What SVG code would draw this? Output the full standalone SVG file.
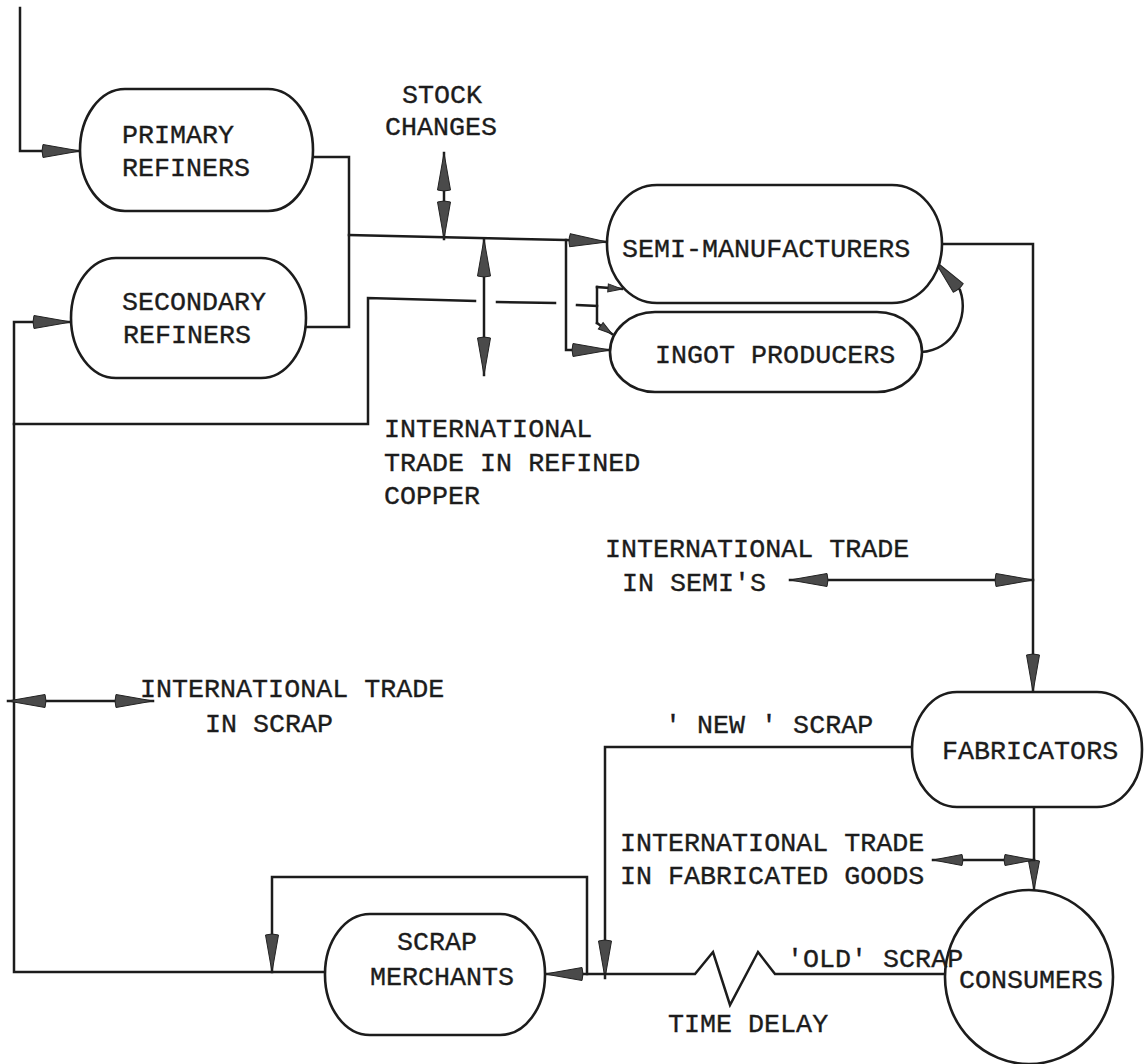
<svg xmlns="http://www.w3.org/2000/svg" width="1145" height="1064" viewBox="0 0 1145 1064">
<style>
.ln{fill:none;stroke:#1c1c1c;stroke-width:2.5;stroke-linejoin:miter;stroke-linecap:square}
.nd{fill:#fff;stroke:#1c1c1c;stroke-width:2.6}
text{font-family:"Liberation Mono","Courier New",monospace;font-size:26.7px;fill:#1c1c1c;stroke:#1c1c1c;stroke-width:0.35}
</style>
<defs>
<marker id="ah" markerUnits="userSpaceOnUse" viewBox="0 -7 38 14" refX="38" refY="0" markerWidth="38" markerHeight="14" orient="auto-start-reverse" overflow="visible">
<path d="M1,-6.5 L38,0 L1,6.5 Q-1,0 1,-6.5 Z" fill="#4a4a4a" stroke="#222" stroke-width="1"/>
</marker>
<marker id="ahm" markerUnits="userSpaceOnUse" viewBox="0 -6 30 12" refX="30" refY="0" markerWidth="30" markerHeight="12" orient="auto-start-reverse" overflow="visible">
<path d="M1,-5.5 L30,0 L1,5.5 Q-1,0 1,-5.5 Z" fill="#4a4a4a" stroke="#222" stroke-width="1"/>
</marker>
<marker id="ahs" markerUnits="userSpaceOnUse" viewBox="0 -4 14 8" refX="14" refY="0" markerWidth="14" markerHeight="8" orient="auto" overflow="visible">
<path d="M0,-4 L14,0 L0,4 Z" fill="#4a4a4a" stroke="#222" stroke-width="1"/>
</marker>
</defs>
<rect width="1145" height="1064" fill="#fff"/>
<g id="connectors">
<path class="ln" d="M20,8 L20,151 L80,151" marker-end="url(#ah)"/>
<path class="ln" d="M313,157 L349,157 L349,327 L306,327"/>
<path class="ln" d="M349,235 L566,240 L607,242" marker-end="url(#ah)"/>
<path class="ln" d="M566,240 L566,350 L610,350" marker-end="url(#ah)"/>
<path class="ln" d="M444,153 L444,239" marker-start="url(#ah)" marker-end="url(#ah)"/>
<path class="ln" d="M484,239 L484,375" marker-start="url(#ah)" marker-end="url(#ah)"/>
<path class="ln" d="M14,424 L368,424 L368,298 L475,301"/>
<path class="ln" d="M497,302 L555,303"/>
<path class="ln" d="M577,305 L597,306"/>
<path class="ln" d="M597,287 L597,323"/>
<path class="ln" d="M597,287 L622,289" marker-end="url(#ahs)"/>
<path class="ln" d="M597,323 L612,334" marker-end="url(#ahs)"/>
<path class="ln" d="M922,352 C952,350 970,318 960,290 L934,260" marker-end="url(#ah)"/>
<path class="ln" d="M942,244 L1033,244 L1033,692" marker-end="url(#ah)"/>
<path class="ln" d="M790,580 L1033,580" marker-start="url(#ah)" marker-end="url(#ah)"/>
<path class="ln" d="M1034,807 L1034,890" marker-end="url(#ahm)"/>
<path class="ln" d="M933,860 L1034,860" marker-start="url(#ahm)" marker-end="url(#ahm)"/>
<path class="ln" d="M912,747 L605,747 L605,978" marker-end="url(#ah)"/>
<path class="ln" d="M945,974 L775,974 L758,952 L730,1005 L713,952 L695,974 L545,974" marker-end="url(#ah)"/>
<path class="ln" d="M587,974 L587,877 L272,877 L272,972" marker-end="url(#ah)"/>
<path class="ln" d="M325,972 L14,972 L14,322 L71,322" marker-end="url(#ah)"/>
<path class="ln" d="M8,701 L153,701" marker-start="url(#ah)" marker-end="url(#ah)"/>
</g>
<g id="primary-refiners">
<rect class="nd" x="80" y="89" width="233" height="122" rx="45" ry="61"/>
<text x="122" y="143">PRIMARY</text>
<text x="122" y="176">REFINERS</text>
</g>
<g id="secondary-refiners">
<rect class="nd" x="71" y="258" width="235" height="120" rx="45" ry="60"/>
<text x="122" y="310">SECONDARY</text>
<text x="123" y="343">REFINERS</text>
</g>
<g id="semi-manufacturers">
<rect class="nd" x="607" y="185" width="335" height="118" rx="50" ry="59"/>
<text x="622" y="257">SEMI-MANUFACTURERS</text>
</g>
<g id="ingot-producers">
<rect class="nd" x="610" y="312" width="312" height="80" rx="45" ry="40"/>
<text x="655" y="363">INGOT PRODUCERS</text>
</g>
<g id="fabricators">
<rect class="nd" x="912" y="692" width="230" height="115" rx="45" ry="57"/>
<text x="942" y="759">FABRICATORS</text>
</g>
<g id="scrap-merchants">
<rect class="nd" x="325" y="914" width="220" height="121" rx="45" ry="60"/>
<text x="397" y="950">SCRAP</text>
<text x="370" y="985">MERCHANTS</text>
</g>
<g id="consumers">
<ellipse class="nd" cx="1029" cy="977" rx="84" ry="87"/>
<text x="959" y="988">CONSUMERS</text>
</g>
<g id="labels">
<text x="402" y="103">STOCK</text>
<text x="385" y="135">CHANGES</text>
<text x="384" y="437">INTERNATIONAL</text>
<text x="384" y="471">TRADE IN REFINED</text>
<text x="384" y="504">COPPER</text>
<text x="605" y="557">INTERNATIONAL TRADE</text>
<text x="622" y="591">IN SEMI'S</text>
<text x="140" y="697">INTERNATIONAL TRADE</text>
<text x="205" y="732">IN SCRAP</text>
<text x="665" y="733">' NEW ' SCRAP</text>
<text x="620" y="851">INTERNATIONAL TRADE</text>
<text x="620" y="884">IN FABRICATED GOODS</text>
<text x="787" y="967">'OLD' SCRAP</text>
<text x="668" y="1032">TIME DELAY</text>
</g>
</svg>
